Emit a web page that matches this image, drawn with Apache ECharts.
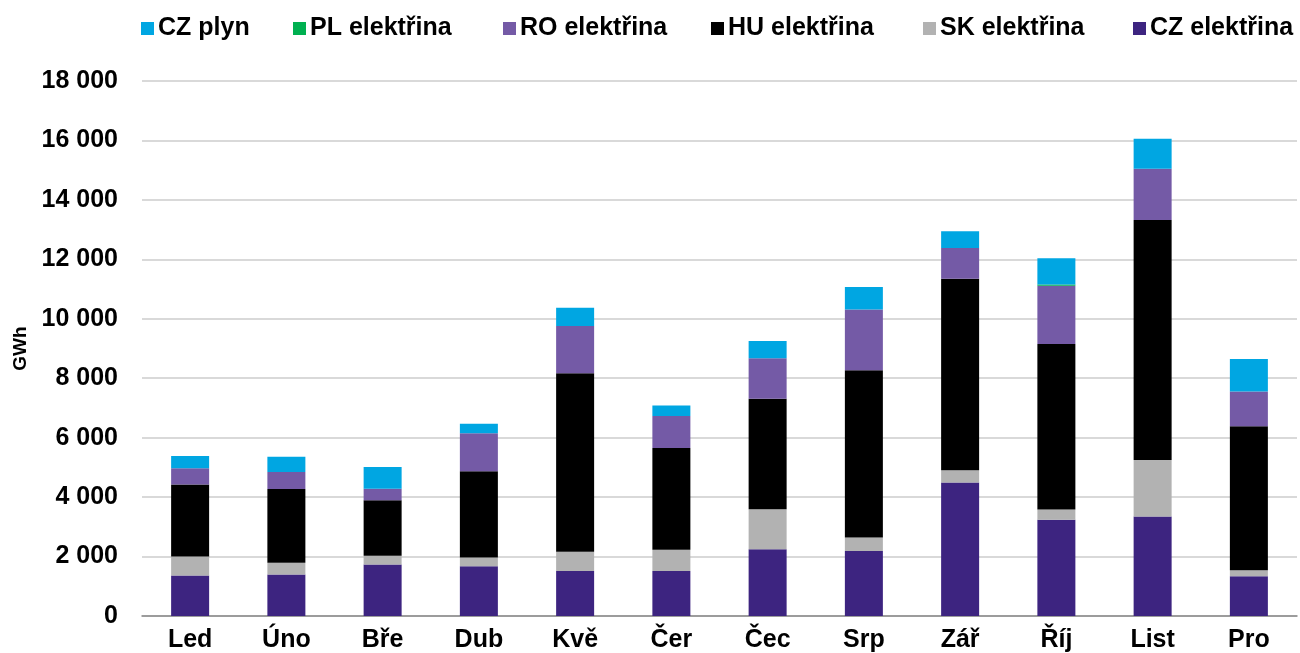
<!DOCTYPE html>
<html>
<head>
<meta charset="utf-8">
<script src="https://cdn.jsdelivr.net/npm/echarts@6/dist/echarts.min.js"></script>
<style>
    html, body { margin: 0; padding: 0; background: #fff; }
    #main { width: 1300px; height: 653px; }
</style>
</head>
<body>
<div id="main"></div>
<script>
    // kategorie (měsíce)
    var months = ['Led', 'Úno', 'Bře', 'Dub', 'Kvě', 'Čer', 'Čec', 'Srp', 'Zář', 'Říj', 'List', 'Pro'];
    // hodnoty v GWh
    var czElektrina = [1365, 1400, 1735, 1670, 1510, 1510, 2250, 2185, 4490, 3235, 3350, 1335];
    var skElektrina = [640, 390, 290, 300, 650, 715, 1345, 460, 410, 345, 1895, 205];
    var huElektrina = [2420, 2485, 1870, 2900, 6005, 3425, 3715, 5620, 6445, 5575, 8080, 4845];
    var roElektrina = [550, 570, 390, 1275, 1590, 1075, 1365, 2050, 1040, 1960, 1725, 1165];
    var plElektrina = [0, 0, 0, 0, 0, 0, 0, 0, 0, 35, 0, 0];
    var czPlyn = [405, 515, 725, 325, 615, 360, 580, 750, 560, 890, 1005, 1095];
    var yTicks = [0, 2000, 4000, 6000, 8000, 10000, 12000, 14000, 16000, 18000];

    var legendNames = ['CZ plyn', 'PL elektřina', 'RO elektřina', 'HU elektřina', 'SK elektřina', 'CZ elektřina'];
    var legendLeft = [141, 293, 503, 711, 923, 1133];

    var font = 'Liberation Sans, Arial, sans-serif';

    function fmt(v) {
        return String(v).replace(/\B(?=(\d{3})+(?!\d))/g, ' ');
    }

    function bar(name, data, color) {
        return {
            name: name,
            type: 'bar',
            stack: 'total',
            barWidth: 38,
            data: data,
            itemStyle: { color: color },
            emphasis: { disabled: true }
        };
    }

    // kazda polozka legendy zvlast, aby sedely pozice
    var legends = legendNames.map(function (n, i) {
        return {
            top: 16,
            left: legendLeft[i],
            padding: 0,
            itemWidth: 13,
            itemHeight: 13,
            icon: 'rect',
            textStyle: { fontSize: 25, fontWeight: 'bold', color: '#000', fontFamily: font, padding: [0, 0, 0, -1] },
            data: [n]
        };
    });

    var chart = echarts.init(document.getElementById('main'));
    chart.setOption({
        animation: false,
        textStyle: { fontFamily: font },
        legend: legends,
        grid: { left: 142, right: 3, top: 81, bottom: 35 },
        xAxis: {
            type: 'category',
            data: months,
            axisLine: { lineStyle: { color: '#888', width: 1.5 } },
            axisTick: { length: 7, lineStyle: { color: '#888', width: 1.5 } },
            axisLabel: { fontSize: 25, fontWeight: 'bold', color: '#000', margin: 12, fontFamily: font }
        },
        yAxis: {
            type: 'value',
            min: yTicks[0],
            max: yTicks[yTicks.length - 1],
            interval: 2000,
            name: 'GWh',
            nameLocation: 'middle',
            nameGap: 106,
            nameTextStyle: { fontSize: 19, fontWeight: 'bold', color: '#000', fontFamily: font },
            axisLine: { show: false },
            axisTick: { show: false },
            splitLine: { lineStyle: { color: '#d9d9d9', width: 2 } },
            axisLabel: {
                fontSize: 25, fontWeight: 'bold', color: '#000', margin: 24, fontFamily: font,
                formatter: fmt
            }
        },
        series: [
            bar('CZ elektřina', czElektrina, '#3d2480'),
            bar('SK elektřina', skElektrina, '#b2b2b2'),
            bar('HU elektřina', huElektrina, '#000000'),
            bar('RO elektřina', roElektrina, '#745aa6'),
            bar('PL elektřina', plElektrina, '#00b050'),
            bar('CZ plyn', czPlyn, '#00a6e2')
        ]
    });
</script>
</body>
</html>
